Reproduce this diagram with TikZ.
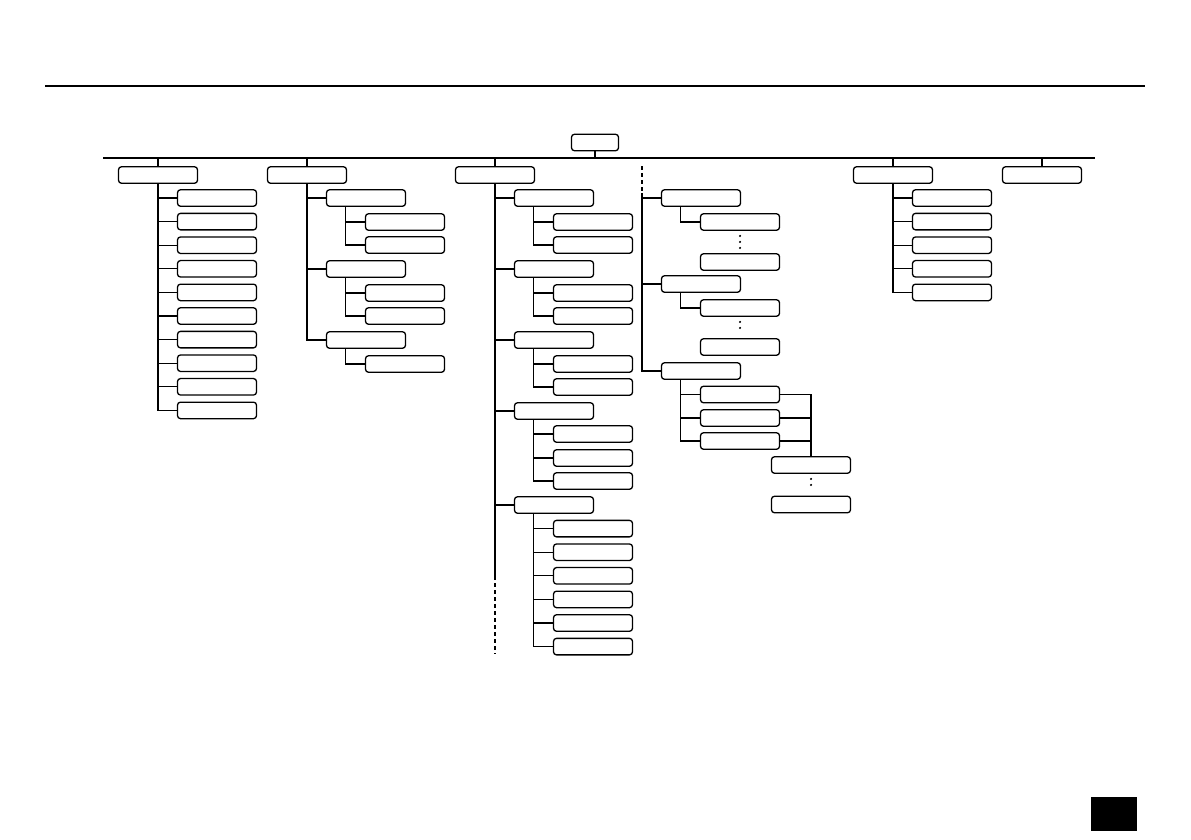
\documentclass[tikz,border=0pt]{standalone}
\usepackage{xcolor}
\usepackage{tikz}
\usetikzlibrary{positioning,calc}
\definecolor{treeInk}{HTML}{000000}
\definecolor{treePaper}{HTML}{FFFFFF}
\tikzset{
  leaf/.style={
    rectangle,
    rounded corners=3pt,
    draw=treeInk,
    fill=treePaper,
    line width=1.3pt,
    minimum width=79pt,
    minimum height=16.5pt,
    inner sep=0pt
  },
  topbox/.style={
    leaf,
    minimum width=47pt
  },
  link/.style={
    line width=1.1pt,
    draw=treeInk
  },
  linkDashed/.style={
    line width=1.1pt,
    draw=treeInk,
    dash pattern=on 4pt off 3pt
  },
  bar/.style={
    line width=2pt,
    draw=treeInk
  },
  gapdots/.style={
    line width=2.3pt,
    draw=treeInk,
    line cap=round,
    dash pattern=on 0pt off 6pt,
    shorten <=5pt,
    shorten >=5pt
  }
}

\begin{document}
\begin{tikzpicture}[x=1pt,y=-1pt]
  \useasboundingbox (0,0) rectangle (1191,839);
  % page rule and tab
  \coordinate (ruleWest) at (45,86);
  \coordinate (ruleEast) at (1145,86);
  \draw[bar] (ruleWest) -- (ruleEast);
  \fill[treeInk] (1091,797) rectangle (1137,831);

  % top and first level
  \node[topbox] (root) at (595,142.5) {};
  \coordinate (barWest) at (103,158);
  \coordinate (barEast) at (1095,158);
  \draw[bar] (barWest) -- (barEast);
  \draw[link] (root.south) -- (root.south |- barWest);
  \node[leaf] (groupA) at (158,175) {};
  \node[leaf] (groupB) at (307,175) {};
  \node[leaf] (groupC) at (495,175) {};
  \node[leaf] (groupE) at (893,175) {};
  \node[leaf] (groupF) at (1042,175) {};
  \foreach \g in {A,B,C,E,F} {
    \draw[link] (group\g.north) -- (group\g.north |- barWest);
  }

  % column A
  \foreach \k in {1,...,10} {
    \node[leaf] (aItem\k) at (217,{174.4+23.6*\k}) {};
    \draw[link] (groupA.south) |- (aItem\k.west);
  }

  % column B
  \foreach \y [count=\k] in {198,269,340} {
    \node[leaf] (bItem\k) at (366,\y) {};
    \draw[link] (groupB.south) |- (bItem\k.west);
  }
  \foreach \y/\p [count=\k] in {222/1,245/1,293/2,316/2,364/3} {
    \node[leaf] (bSub\k) at (405,\y) {};
    \draw[link] ($(bItem\p.south west)+(20,0)$) |- (bSub\k.west);
  }

  % column C
  \foreach \y [count=\k] in {198,269,340,411,505} {
    \node[leaf] (cItem\k) at (554,\y) {};
    \draw[link] (groupC.south) |- (cItem\k.west);
  }
  \foreach \y/\p [count=\k] in {222/1,245/1,293/2,316/2,364/3,387/3,434/4,458/4,481/4,
                                528.6/5,552.2/5,575.8/5,599.4/5,623/5,646.6/5} {
    \node[leaf] (cSub\k) at (593,\y) {};
    \draw[link] ($(cItem\p.south west)+(20,0)$) |- (cSub\k.west);
  }
  \coordinate (cTail) at (495,576);
  \coordinate (cEnd) at (495,654);
  \draw[link] (groupC.south) -- (cTail);
  \draw[linkDashed] (cTail) -- (cEnd);

  % column D (no heading box)
  \coordinate (groupD) at (642,166);
  \coordinate (groupDsolid) at (642,193);
  \draw[linkDashed] (groupD) -- (groupDsolid);
  \foreach \y [count=\k] in {198,284,371} {
    \node[leaf] (dItem\k) at (701,\y) {};
    \draw[link] (groupDsolid) |- (dItem\k.west);
  }
  \node[leaf] (dSub1) at (740,222) {};
  \node[leaf] (dSub2) at (740,262) {};
  \node[leaf] (dSub3) at (740,308) {};
  \node[leaf] (dSub4) at (740,347) {};
  \node[leaf] (dSub5) at (740,394.5) {};
  \node[leaf] (dSub6) at (740,418) {};
  \node[leaf] (dSub7) at (740,441) {};
  \draw[link] ($(dItem1.south west)+(20,0)$) |- (dSub1.west);
  \draw[gapdots] (dSub1.south) -- (dSub2.north);
  \draw[link] ($(dItem2.south west)+(20,0)$) |- (dSub3.west);
  \draw[gapdots] (dSub3.south) -- (dSub4.north);
  \foreach \k in {5,6,7} {
    \draw[link] ($(dItem3.south west)+(20,0)$) |- (dSub\k.west);
  }
  \node[leaf] (dJoin1) at (811,465) {};
  \node[leaf] (dJoin2) at (811,504.5) {};
  \foreach \k in {5,6,7} {
    \draw[link] (dSub\k.east) -| (dJoin1.north);
  }
  \draw[gapdots] (dJoin1.south) -- (dJoin2.north);

  % column E
  \foreach \k in {1,...,5} {
    \node[leaf] (eItem\k) at (952,{174.4+23.6*\k}) {};
    \draw[link] (groupE.south) |- (eItem\k.west);
  }
\end{tikzpicture}
\end{document}
